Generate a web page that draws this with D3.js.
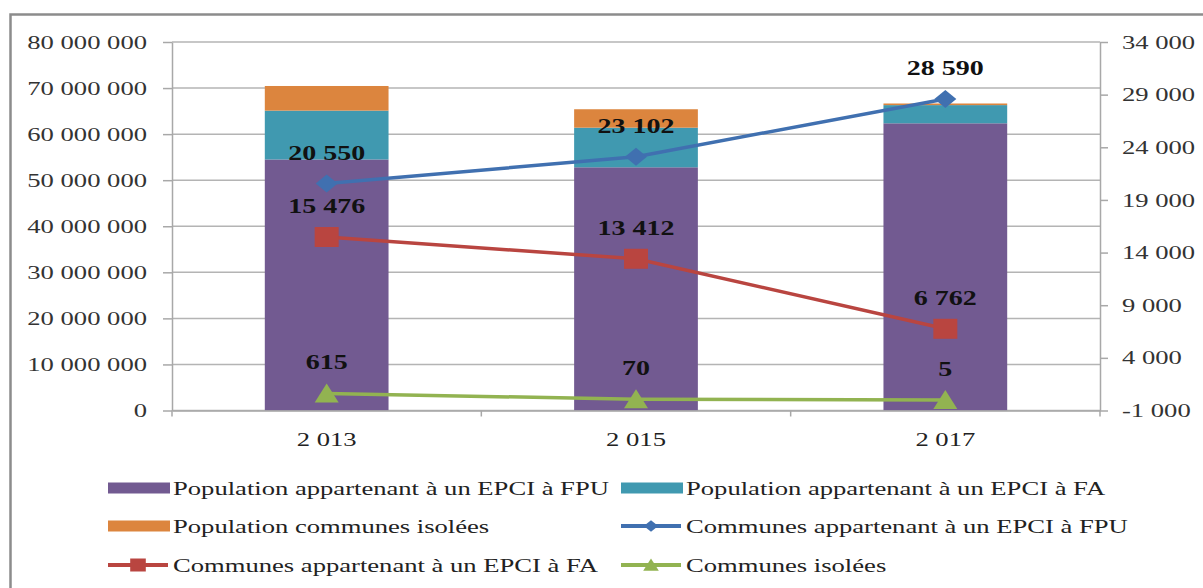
<!DOCTYPE html>
<html>
<head>
<meta charset="utf-8">
<script src="https://cdn.jsdelivr.net/npm/d3@7"></script>
<style>
  html, body { margin: 0; padding: 0; background: #fff; }
  svg { display: block; }
  text { font-family: "Liberation Serif", "Times New Roman", serif; }
</style>
</head>
<body>
<svg id="chart" width="1203" height="588"></svg>
<script>
// Years on the category axis
const years = [2013, 2015, 2017];

// Population (left axis, stacked bars)
const popFPU      = [54500000, 52800000, 62350000];
const popFA       = [10600000,  8600000,  3950000];
const popIsolees  = [ 5350000,  4000000,   350000];

// Number of communes (right axis, lines)
const comFPU     = [20550, 23102, 28590];
const comFA      = [15476, 13412,  6762];
const comIsolees = [  615,    70,     5];

// Axis ticks
const leftTicks  = [0, 10000000, 20000000, 30000000, 40000000, 50000000, 60000000, 70000000, 80000000];
const rightTicks = [-1000, 4000, 9000, 14000, 19000, 24000, 29000, 34000];

// Series labels
const barNames  = ["Population appartenant à un EPCI à FPU", "Population appartenant à un EPCI à FA", "Population communes isolées"];
const lineNames = ["Communes appartenant à un EPCI à FPU", "Communes appartenant à un EPCI à FA", "Communes isolées"];

const barColors  = ["#725a91", "#4099b0", "#dc853e"];
const lineColors = ["#4070b0", "#b94540", "#92b351"];

const fr = d3.formatLocale({decimal: ",", thousands: " ", grouping: [3], currency: ["", " €"], minus: "-"});
const fmt = fr.format(",d");

const svg = d3.select("#chart");
const X0 = 172, X1 = 1100, Y0 = 410.5, Y1 = 42;
const STRETCH = 1.4;

function stretch(sel, k) {
  sel.each(function () {
    const len = this.getComputedTextLength();
    d3.select(this).attr("textLength", len * k).attr("lengthAdjust", "spacingAndGlyphs");
  });
}

// Outer frame
svg.append("rect")
  .attr("x", 10.5).attr("y", 14.5).attr("width", 1300).attr("height", 700)
  .attr("fill", "none").attr("stroke", "#8c8c8c").attr("stroke-width", 2.5);

const x = d3.scaleBand().domain(years).range([X0, X1]);
const barW = x.bandwidth() * 0.4;
const cx = d => x(d) + x.bandwidth() / 2;
const yL = d3.scaleLinear().domain([0, 80000000]).range([Y0, Y1]);
const yR = d3.scaleLinear().domain([-1000, 34000]).range([Y0, Y1]);

// Gridlines
svg.append("g").selectAll("line").data(leftTicks).join("line")
  .attr("x1", X0).attr("x2", X1)
  .attr("y1", d => yL(d)).attr("y2", d => yL(d))
  .attr("stroke", "#b4b4b4").attr("stroke-width", 1.5);

// Left axis
const gL = svg.append("g").attr("transform", `translate(${X0},0)`)
  .call(d3.axisLeft(yL).tickValues(leftTicks).tickFormat(fmt).tickSize(9).tickSizeOuter(0).tickPadding(16));
gL.select(".domain").attr("stroke", "#a8a8a8").attr("stroke-width", 1.5);
gL.selectAll(".tick line").attr("stroke", "#a8a8a8").attr("stroke-width", 1.5);
gL.selectAll(".tick text").attr("font-size", 19).attr("fill", "#333");

// Right axis
const gR = svg.append("g").attr("transform", `translate(${X1},0)`)
  .call(d3.axisRight(yR).tickValues(rightTicks).tickFormat(fmt).tickSize(8).tickSizeOuter(0).tickPadding(14));
gR.select(".domain").attr("stroke", "#a8a8a8").attr("stroke-width", 1.5);
gR.selectAll(".tick line").attr("stroke", "#a8a8a8").attr("stroke-width", 1.5);
gR.selectAll(".tick text").attr("font-size", 19).attr("fill", "#333");

// Stacked bars
const table = years.map((yr, i) => ({year: yr, a: popFPU[i], b: popFA[i], c: popIsolees[i]}));
const stack = d3.stack().keys(["a", "b", "c"])(table);
svg.append("g").selectAll("g").data(stack).join("g")
  .attr("fill", (d, i) => barColors[i])
  .selectAll("rect").data(d => d).join("rect")
  .attr("x", d => cx(d.data.year) - barW / 2)
  .attr("width", barW)
  .attr("y", d => yL(d[1]))
  .attr("height", d => yL(d[0]) - yL(d[1]));

// Bottom axis
const gB = svg.append("g").attr("transform", `translate(0,${Y0})`)
  .call(d3.axisBottom(x).tickFormat(fmt).tickSize(0).tickPadding(22));
gB.select(".domain").attr("stroke", "#a8a8a8").attr("stroke-width", 1.5);
gB.selectAll(".tick text").attr("font-size", 19).attr("fill", "#222");
gB.selectAll("line.sep").data([...years.map(d => x(d)), X1]).join("line")
  .attr("class", "sep")
  .attr("x1", d => d).attr("x2", d => d).attr("y1", 0).attr("y2", 6)
  .attr("stroke", "#a8a8a8").attr("stroke-width", 1.5);

// Markers
const markers = [
  (s) => `M0,${-9 * s}L${11 * s},0L0,${9 * s}L${-11 * s},0Z`,
  (s) => `M${-12 * s},${-10 * s}H${12 * s}V${10 * s}H${-12 * s}Z`,
  (s) => `M0,${-10 * s}L${12 * s},${9 * s}H${-12 * s}Z`
];

const lineData = [comFPU, comFA, comIsolees];
const line = d3.line().x((d, i) => cx(years[i])).y(d => yR(d));
const gLines = svg.append("g");
lineData.forEach((vals, k) => {
  gLines.append("path").attr("d", line(vals))
    .attr("fill", "none").attr("stroke", lineColors[k]).attr("stroke-width", 3.5);
  gLines.selectAll(null).data(vals).join("path")
    .attr("d", markers[k](1))
    .attr("transform", (d, i) => `translate(${cx(years[i])},${yR(d)})`)
    .attr("fill", lineColors[k]);
});

// Value labels
const gLab = svg.append("g");
lineData.forEach((vals) => {
  gLab.selectAll(null).data(vals).join("text")
    .attr("x", (d, i) => cx(years[i]))
    .attr("y", d => yR(d) - 24)
    .attr("text-anchor", "middle")
    .attr("font-size", 20).attr("font-weight", "bold").attr("fill", "#111")
    .text(d => fmt(d));
});

// Legend
const legend = [
  {name: barNames[0], type: "bar", color: barColors[0], col: 0, row: 0},
  {name: barNames[1], type: "bar", color: barColors[1], col: 1, row: 0},
  {name: barNames[2], type: "bar", color: barColors[2], col: 0, row: 1},
  {name: lineNames[0], type: "line", color: lineColors[0], m: 0, col: 1, row: 1},
  {name: lineNames[1], type: "line", color: lineColors[1], m: 1, col: 0, row: 2},
  {name: lineNames[2], type: "line", color: lineColors[2], m: 2, col: 1, row: 2}
];
const colX = [108, 621];
const rowY = [488, 526, 565];
const gLeg = svg.append("g");
legend.forEach(l => {
  const g = gLeg.append("g").attr("transform", `translate(${colX[l.col]},${rowY[l.row]})`);
  if (l.type === "bar") {
    g.append("rect").attr("x", 0).attr("y", -5.5).attr("width", 62).attr("height", 11).attr("fill", l.color);
  } else {
    g.append("line").attr("x1", 0).attr("x2", 60).attr("y1", 0).attr("y2", 0)
      .attr("stroke", l.color).attr("stroke-width", 4);
    g.append("path").attr("d", markers[l.m](0.65)).attr("transform", "translate(30,0)").attr("fill", l.color);
  }
  g.append("text").attr("x", 65).attr("y", 7).attr("font-size", 19).attr("fill", "#222").text(l.name);
});

stretch(svg.selectAll("text"), STRETCH);
</script>
</body>
</html>
